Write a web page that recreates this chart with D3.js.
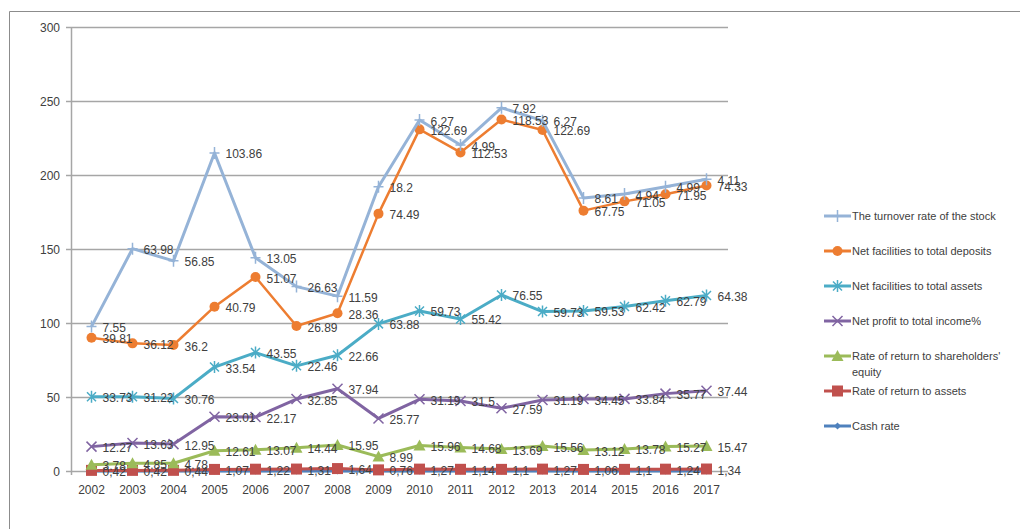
<!DOCTYPE html>
<html>
<head>
<meta charset="utf-8">
<script src="https://cdn.jsdelivr.net/npm/d3@7"></script>
<style>
  body { margin: 0; background: #fff; }
  text { font-family: "Liberation Sans", Arial, sans-serif; fill: #404040; }
</style>
</head>
<body>
<div id="container"></div>
<script>
var width = 1020,
    height = 529;

// data (values as labelled, drawn stacked)
var years = ["2002", "2003", "2004", "2005", "2006", "2007", "2008", "2009",
    "2010", "2011", "2012", "2013", "2014", "2015", "2016", "2017"];
var cashRate = [0, 0, 0, 0, 0, 0, 0, 0, 0, 0, 0, 0, 0, 0, 0, 0];
var returnAssets = [0.42, 0.42, 0.44, 1.07, 1.22, 1.31, 1.64, 0.76, 1.27, 1.14, 1.1, 1.27, 1.06, 1.1, 1.24, 1.34];
var returnEquity = [3.78, 4.85, 4.78, 12.61, 13.07, 14.44, 15.95, 8.99, 15.96, 14.68, 13.69, 15.56, 13.12, 13.78, 15.27, 15.47];
var netProfit = [12.27, 13.63, 12.95, 23.01, 22.17, 32.85, 37.94, 25.77, 31.19, 31.5, 27.59, 31.19, 34.45, 33.84, 35.77, 37.44];
var facAssets = [33.73, 31.22, 30.76, 33.54, 43.55, 22.46, 22.66, 63.88, 59.73, 55.42, 76.55, 59.73, 59.53, 62.42, 62.79, 64.38];
var facDeposits = [39.81, 36.12, 36.2, 40.79, 51.07, 26.89, 28.36, 74.49, 122.69, 112.53, 118.53, 122.69, 67.75, 71.05, 71.95, 74.33];
var turnover = [7.55, 63.98, 56.85, 103.86, 13.05, 26.63, 11.59, 18.2, 6.27, 4.99, 7.92, 6.27, 8.61, 4.94, 4.99, 4.11];
var yTicks = [0, 50, 100, 150, 200, 250, 300];

// bottom to top of the stack
var series = [
    { key: "cash", name: "Cash rate", values: cashRate, color: "#4f81bd", marker: "diamond", labels: false },
    { key: "roa", name: "Rate of return to assets", values: returnAssets, color: "#c0504d", marker: "square", labels: true, comma: true },
    { key: "roe", name: "Rate of return to shareholders' equity", values: returnEquity, color: "#9bbb59", marker: "triangle", labels: true },
    { key: "profit", name: "Net profit to total income%", values: netProfit, color: "#8064a2", marker: "x", labels: true },
    { key: "nfta", name: "Net facilities to total assets", values: facAssets, color: "#4bacc6", marker: "star", labels: true },
    { key: "nftd", name: "Net facilities to total deposits", values: facDeposits, color: "#ed7d31", marker: "circle", labels: true },
    { key: "turn", name: "The turnover rate of the stock", values: turnover, color: "#95b3d7", marker: "plus", labels: true }
];

var table = years.map((y, i) => {
    let row = { year: y };
    series.forEach(s => { row[s.key] = s.values[i]; });
    return row;
});
var stacked = d3.stack().keys(series.map(s => s.key))(table);

var svg = d3.select("#container").append("svg")
    .attr("width", width)
    .attr("height", height);

// outer frame
svg.append("path")
    .attr("d", "M9.5," + height + "V11.5H" + width)
    .attr("fill", "none")
    .attr("stroke", "#8c8c8c")
    .attr("stroke-width", 1);

var x = d3.scalePoint()
    .domain(years)
    .range([71, 727])
    .padding(0.5);

var y = d3.scaleLinear()
    .domain([0, 300])
    .range([471, 27]);

// gridlines
svg.selectAll(".grid")
    .data(yTicks)
    .enter().append("line")
    .attr("x1", 66)
    .attr("x2", 728)
    .attr("y1", d => y(d) + 0.5)
    .attr("y2", d => y(d) + 0.5)
    .attr("stroke", "#a6a6a6")
    .attr("stroke-width", 1.5);

svg.append("line")
    .attr("x1", 71.5).attr("x2", 71.5)
    .attr("y1", y(300)).attr("y2", y(0) + 4)
    .attr("stroke", "#a6a6a6")
    .attr("stroke-width", 1.5);

svg.selectAll(".ytick")
    .data(yTicks)
    .enter().append("text")
    .attr("x", 60)
    .attr("y", d => y(d) + 4.5)
    .attr("text-anchor", "end")
    .style("font-size", "12px")
    .text(d => d);

svg.selectAll(".xtick")
    .data(years)
    .enter().append("text")
    .attr("x", d => x(d))
    .attr("y", 494)
    .attr("text-anchor", "middle")
    .style("font-size", "12px")
    .text(d => d);

function drawMarker(g, type, color) {
    if (type == "circle") {
        g.append("circle").attr("r", 5).attr("fill", color);
    } else if (type == "square") {
        g.append("rect").attr("x", -5.5).attr("y", -5.5).attr("width", 11).attr("height", 11).attr("fill", color);
    } else if (type == "triangle") {
        g.append("path").attr("d", "M0,-6L6,5H-6Z").attr("fill", color);
    } else if (type == "diamond") {
        g.append("path").attr("d", "M0,-3.5L3.5,0L0,3.5L-3.5,0Z").attr("fill", color);
    } else if (type == "x") {
        g.append("path").attr("d", "M-5,-5L5,5M-5,5L5,-5").attr("stroke", color).attr("stroke-width", 1.5);
    } else if (type == "star") {
        g.append("path").attr("d", "M-4.5,-4.5L4.5,4.5M-4.5,4.5L4.5,-4.5M0,-6V6").attr("stroke", color).attr("stroke-width", 1.5);
    } else if (type == "plus") {
        g.append("path").attr("d", "M0,-6V6M-5,0H5").attr("stroke", color).attr("stroke-width", 1.5);
    }
}

var line = d3.line()
    .x(d => x(d.data.year))
    .y(d => y(d[1]));

// draw from top of the legend order down so lower series sit on top
series.forEach((s, si) => {
    let layer = stacked[si];
    let g = svg.append("g");
    g.append("path")
        .attr("d", line(layer))
        .attr("fill", "none")
        .attr("stroke", s.color)
        .attr("stroke-width", s.key == "nftd" ? 2.5 : 3)
        .attr("stroke-linejoin", "round");
    layer.forEach(d => {
        let m = g.append("g")
            .attr("transform", "translate(" + x(d.data.year) + "," + y(d[1]) + ")");
        drawMarker(m, s.marker, s.color);
    });
});

series.forEach((s, si) => {
    if (!s.labels) return;
    let layer = stacked[si];
    svg.append("g").selectAll("text")
        .data(layer)
        .enter().append("text")
        .attr("x", d => x(d.data.year) + 11)
        .attr("y", d => y(d[1]) + 5.5)
        .style("font-size", "12px")
        .text(d => {
            let v = String(d.data[s.key]);
            return s.comma ? v.replace(".", ",") : v;
        });
});

// legend
var legendY = [426, 391, 356, 321, 286, 251, 216];
var legend = svg.append("g");
series.forEach((s, si) => {
    let ly = legendY[si];
    let g = legend.append("g");
    g.append("line")
        .attr("x1", 824).attr("x2", 851)
        .attr("y1", ly).attr("y2", ly)
        .attr("stroke", s.color)
        .attr("stroke-width", 3);
    let m = g.append("g").attr("transform", "translate(837.5," + ly + ")");
    drawMarker(m, s.marker, s.color);
    if (s.key == "roe") {
        g.append("text").attr("x", 852).attr("y", ly + 4).style("font-size", "11px")
            .text("Rate of return to shareholders'");
        g.append("text").attr("x", 852).attr("y", ly + 20).style("font-size", "11px")
            .text("equity");
    } else {
        g.append("text").attr("x", 852).attr("y", ly + 4).style("font-size", "11px")
            .text(s.name);
    }
});
</script>
</body>
</html>
